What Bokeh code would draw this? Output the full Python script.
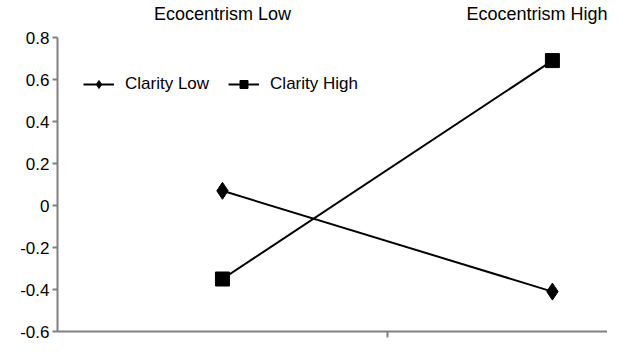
from bokeh.plotting import figure
from bokeh.models import Range1d, LinearAxis, FixedTicker, Legend, LegendItem
from bokeh.embed import file_html
from bokeh.resources import INLINE

# data
categories = ["Ecocentrism Low", "Ecocentrism High"]
cat_pos = [0.5, 1.5]
clarity_low = [0.07, -0.41]
clarity_high = [-0.35, 0.69]
y_ticks = [-0.6, -0.4, -0.2, 0, 0.2, 0.4, 0.6, 0.8]
y_tick_labels = ["-0.6", "-0.4", "-0.2", "0", "0.2", "0.4", "0.6", "0.8"]

FONT = "Liberation Sans"
AXC = "#808080"

p = figure(width=607, height=340, output_backend="svg", toolbar_location=None,
           x_range=Range1d(0, 1.667), y_range=Range1d(-0.6, 0.8),
           x_axis_location=None, y_axis_location=None,
           min_border_left=57, min_border_right=0, min_border_top=32, min_border_bottom=9)
p.outline_line_color = None
p.grid.visible = False
p.background_fill_color = "white"
p.border_fill_color = "white"

# left axis
ya = LinearAxis(ticker=FixedTicker(ticks=y_ticks),
                major_label_overrides={t: l for t, l in zip(y_ticks, y_tick_labels)})
ya.axis_line_color = AXC
ya.axis_line_width = 2
ya.major_tick_line_color = AXC
ya.major_tick_line_width = 2
ya.major_tick_in = 0
ya.major_tick_out = 5
ya.minor_tick_line_color = None
ya.major_label_text_font = FONT
ya.major_label_text_font_size = "17px"
ya.major_label_text_color = "black"
ya.major_label_standoff = 3
p.add_layout(ya, "left")

# bottom axis
xa = LinearAxis(ticker=FixedTicker(ticks=[1]), major_label_overrides={1: ""})
xa.axis_line_color = AXC
xa.axis_line_width = 2
xa.major_tick_line_color = AXC
xa.major_tick_line_width = 2
xa.major_tick_in = 0
xa.major_tick_out = 6
xa.minor_tick_line_color = None
xa.major_label_text_font_size = "1px"
xa.major_label_standoff = 0
p.add_layout(xa, "below")

# top category labels
ta = LinearAxis(ticker=FixedTicker(ticks=cat_pos),
                major_label_overrides={c: l for c, l in zip(cat_pos, categories)})
ta.axis_line_color = None
ta.major_tick_line_color = None
ta.minor_tick_line_color = None
ta.major_label_text_font = FONT
ta.major_label_text_font_size = "18px"
ta.major_label_text_color = "black"
ta.major_label_standoff = 8
p.add_layout(ta, "above")

# small markers (used for legend glyphs; hidden beneath the large markers)
lg1 = p.scatter(cat_pos, clarity_low, marker="diamond", size=10, color="black")
lg2 = p.scatter(cat_pos, clarity_high, marker="square", size=9, color="black")

# series
l1 = p.line(cat_pos, clarity_low, line_color="black", line_width=2)
m1 = p.scatter(cat_pos, clarity_low, marker="diamond", size=17, color="black")
l2 = p.line(cat_pos, clarity_high, line_color="black", line_width=2)
m2 = p.scatter(cat_pos, clarity_high, marker="square", size=14, color="black")

legend = Legend(items=[LegendItem(label="Clarity Low", renderers=[l1, lg1]),
                       LegendItem(label="Clarity High", renderers=[l2, lg2])],
                orientation="horizontal", location=(26, 237))
legend.background_fill_alpha = 0
legend.border_line_color = None
legend.label_text_font = FONT
legend.label_text_font_size = "17px"
legend.label_text_color = "black"
legend.glyph_width = 31
legend.label_standoff = 11
legend.spacing = 19
legend.padding = 0
legend.margin = 0
p.add_layout(legend, "center")

open("out.html", "w").write(file_html(p, INLINE))
